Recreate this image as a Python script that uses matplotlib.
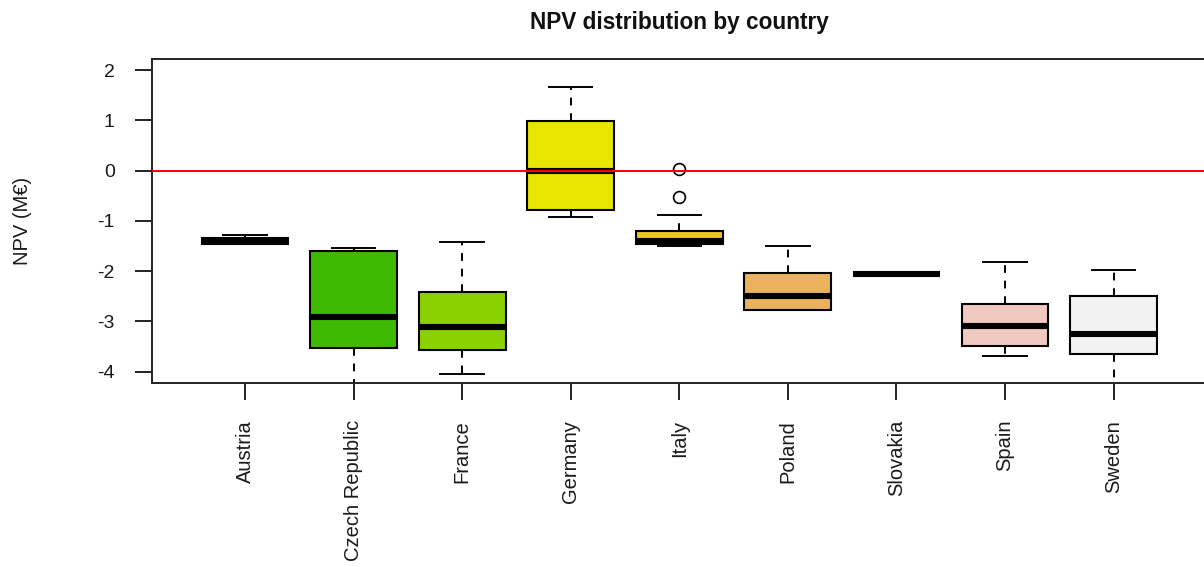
import matplotlib
matplotlib.use("Agg")
import matplotlib.pyplot as plt

plt.rcParams["font.family"] = ["Liberation Sans", "DejaVu Sans"]

# per-country box statistics (NPV, million EUR)
countries = ["Austria", "Czech Republic", "France", "Germany", "Italy",
             "Poland", "Slovakia", "Spain", "Sweden"]
whis_lo = [-1.45, -4.60, -4.04, -0.93, -1.49, -2.77, -2.05, -3.69, -4.60]
q1      = [-1.45, -3.52, -3.57, -0.78, -1.45, -2.77, -2.05, -3.49, -3.65]
med     = [-1.39, -2.92, -3.12,  0.00, -1.39, -2.49, -2.05, -3.09, -3.25]
q3      = [-1.33, -1.60, -2.42,  0.99, -1.20, -2.04, -2.05, -2.65, -2.49]
whis_hi = [-1.28, -1.53, -1.41,  1.67, -0.89, -1.49, -2.05, -1.81, -1.98]
outliers = [[], [], [], [], [0.04, -0.53], [], [], [], []]

# terrain.colors(9)
colors = ["#00A600", "#3EBB00", "#8BD000", "#E6E600", "#E8C32E",
          "#EBB25E", "#EDB48E", "#F0C9C0", "#F2F2F2"]

stats = []
for i, name in enumerate(countries):
    stats.append(dict(label=name, whislo=whis_lo[i], q1=q1[i], med=med[i],
                      q3=q3[i], whishi=whis_hi[i], fliers=outliers[i]))

fig = plt.figure(figsize=(12.04, 5.67), dpi=100)
ax = fig.add_axes([0.1259, 0.3245, 0.8766, 0.5709])

pos = list(range(1, len(countries) + 1))
bp = ax.bxp(stats, positions=pos, widths=0.8, capwidths=0.4,
            patch_artist=True, showfliers=True,
            boxprops=dict(edgecolor="black", linewidth=1.5),
            medianprops=dict(color="black", linewidth=4.4, solid_capstyle="butt"),
            whiskerprops=dict(color="black", linewidth=1.4, linestyle=(0, (4, 4))),
            capprops=dict(color="black", linewidth=1.4),
            flierprops=dict(marker="o", markersize=8.5, markerfacecolor="none",
                            markeredgecolor="black", markeredgewidth=1.2))
for patch, c in zip(bp["boxes"], colors):
    patch.set_facecolor(c)

ax.axhline(0, color="red", linewidth=1.4, zorder=10)

ax.set_xlim(0.14, 9.86)
ax.set_ylim(-4.225, 2.217)
ax.set_yticks(range(-4, 3))
ax.set_yticklabels([str(v) for v in range(-4, 3)], fontsize=14)
ax.set_xticks(pos)
ax.set_xticklabels(countries, rotation=90, ha="center", va="top", fontsize=14.5)
ax.tick_params(axis="both", length=12.5, width=1.4, color="#222222",
               labelcolor="#1a1a1a", pad=14)
for s in ax.spines.values():
    s.set_linewidth(1.4)
    s.set_color("#222222")

fig.text(23 / 1204, 1 - 221 / 567, "NPV (M€)", rotation=90, ha="center",
         va="center", fontsize=14.5, color="#1a1a1a")
fig.text(679 / 1204, 1 - 22 / 567, "NPV distribution by country", ha="center",
         va="center", fontsize=16.3, fontweight="bold", color="#111111")

fig.savefig("out.png", dpi=100)
